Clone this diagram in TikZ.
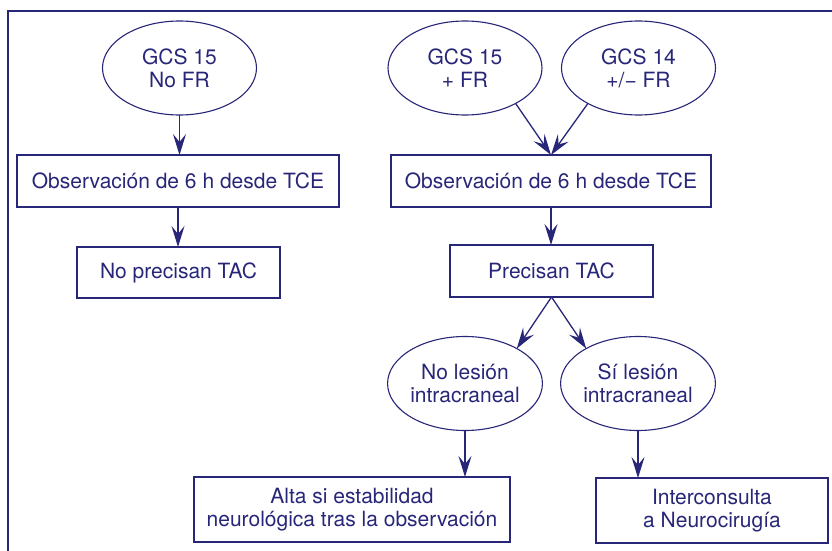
\documentclass[tikz,border=0pt]{standalone}
\usepackage{fontspec}
\setmainfont{TeX Gyre Heros}
\usetikzlibrary{arrows.meta,shapes.geometric}
\definecolor{navy}{RGB}{40,38,120}
\begin{document}
\begin{tikzpicture}[x=1pt,y=-1pt,
  every node/.style={text=navy, font=\fontsize{21}{23}\selectfont, align=center, inner sep=0pt, outer sep=0pt},
  oval/.style={draw=navy, line width=1.1pt, ellipse, minimum width=154pt, minimum height=94pt},
  box/.style={draw=navy, line width=1.2pt, rectangle},
  arr/.style={draw=navy, line width=1.3pt, -{Stealth[length=21pt,width=13pt,inset=8pt]}}]
\useasboundingbox (0,0) rectangle (832,551);
\draw[navy, line width=2.3pt] (8.3,551) -- (8.3,11.2) -- (832,11.2);

\node[oval] (e1) at (179.5,68) {GCS 15\\No FR};
\node[oval] (e2) at (465,68) {GCS 15\\+ FR};
\node[oval] (e3) at (638.5,68) {GCS 14\\+/− FR};
\node[box, minimum width=322pt, minimum height=52pt] (b1) at (178,181) {Observación de 6 h desde TCE};
\node[box, minimum width=320pt, minimum height=52pt] (b2) at (551,181) {Observación de 6 h desde TCE};
\node[box, minimum width=203pt, minimum height=51pt] (b3) at (178.5,272.5) {No precisan TAC};
\node[box, minimum width=203pt, minimum height=52pt] (b4) at (551.5,271) {Precisan TAC};
\node[oval] (e4) at (465,383.5) {No lesión\\intracraneal};
\node[oval] (e5) at (638,383.5) {Sí lesión\\intracraneal};
\node[box, minimum width=316pt, minimum height=65pt] (b5) at (352,509.5) {Alta si estabilidad\\neurológica tras la observación};
\node[box, minimum width=232pt, minimum height=65pt] (b6) at (712,510.5) {Interconsulta\\a Neurocirugía};

\draw[arr] (e1.south) -- (e1.south |- b1.north);
\draw[arr] (e2.-35) -- (b2.north);
\draw[arr] (e3.-145) -- (b2.north);
\draw[arr] (b1.south) -- (b1.south |- b3.north);
\draw[arr] (b2.south) -- (b2.south |- b4.north);
\draw[arr] (b4.south) -- (e4.34);
\draw[arr] (b4.south) -- (e5.146);
\draw[arr] (e4.south) -- (e4.south |- b5.north);
\draw[arr] (e5.south) -- (e5.south |- b6.north);
\end{tikzpicture}
\end{document}
